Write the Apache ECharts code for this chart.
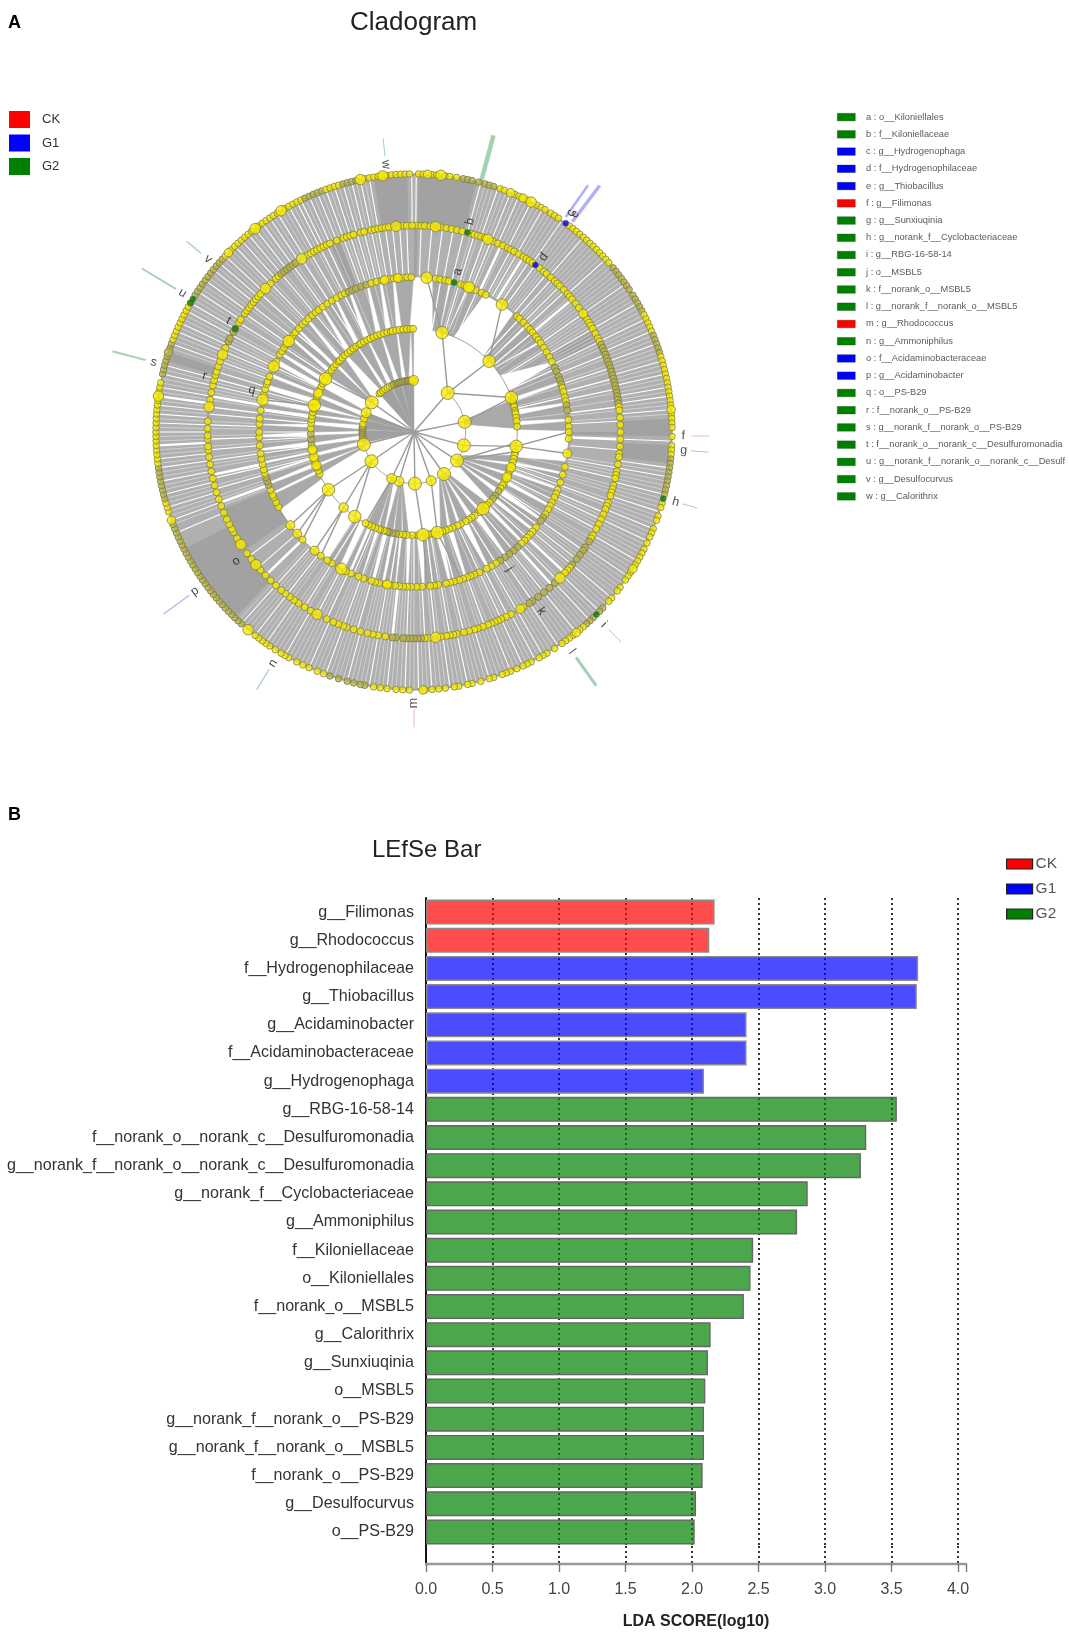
<!DOCTYPE html>
<html><head><meta charset="utf-8">
<script src="https://cdn.jsdelivr.net/npm/echarts@6/dist/echarts.min.js"></script>
<style>html,body{margin:0;padding:0;background:#fff}#c{width:1069px;height:1637px}</style></head>
<body><div id="c"></div>
<script>
/* ---------- bar panel ---------- */
const taxa=['g__Filimonas','g__Rhodococcus','f__Hydrogenophilaceae','g__Thiobacillus','g__Acidaminobacter','f__Acidaminobacteraceae','g__Hydrogenophaga','g__RBG-16-58-14','f__norank_o__norank_c__Desulfuromonadia','g__norank_f__norank_o__norank_c__Desulfuromonadia','g__norank_f__Cyclobacteriaceae','g__Ammoniphilus','f__Kiloniellaceae','o__Kiloniellales','f__norank_o__MSBL5','g__Calorithrix','g__Sunxiuqinia','o__MSBL5','g__norank_f__norank_o__PS-B29','g__norank_f__norank_o__MSBL5','f__norank_o__PS-B29','g__Desulfocurvus','o__PS-B29'];
const scoreCK=[2.17,2.13,null,null,null,null,null,null,null,null,null,null,null,null,null,null,null,null,null,null,null,null,null];
const scoreG1=[null,null,3.70,3.69,2.41,2.41,2.09,null,null,null,null,null,null,null,null,null,null,null,null,null,null,null,null];
const scoreG2=[null,null,null,null,null,null,null,3.54,3.31,3.27,2.87,2.79,2.46,2.44,2.39,2.14,2.12,2.10,2.09,2.09,2.08,2.03,2.02];
/* ---------- clade key ---------- */
const keyLetters=['a','b','c','d','e','f','g','h','i','j','k','l','m','n','o','p','q','r','s','t','u','v','w'];
const keyNames=['o__Kiloniellales','f__Kiloniellaceae','g__Hydrogenophaga','f__Hydrogenophilaceae','g__Thiobacillus','g__Filimonas','g__Sunxiuqinia','g__norank_f__Cyclobacteriaceae','g__RBG-16-58-14','o__MSBL5','f__norank_o__MSBL5','g__norank_f__norank_o__MSBL5','g__Rhodococcus','g__Ammoniphilus','f__Acidaminobacteraceae','g__Acidaminobacter','o__PS-B29','f__norank_o__PS-B29','g__norank_f__norank_o__PS-B29','f__norank_o__norank_c__Desulfuromonadia','g__norank_f__norank_o__norank_c__Desulf','g__Desulfocurvus','g__Calorithrix'];
const keyGroups=['G2','G2','G1','G1','G1','CK','G2','G2','G2','G2','G2','G2','CK','G2','G1','G1','G2','G2','G2','G2','G2','G2','G2'];
/* labels: level, angle */
const letterLevels=[3.22,4.22,5.22,4.22,5.25,5.22,5.24,5.25,5.24,3.24,4.26,5.24,5.25,5.25,4.26,5.25,3.24,4.2,5.22,4.19,5.23,5.21,5.21];
const letterAngles=[15.2,14.9,35.6,36.5,36.4,90.8,93.9,105,135.4,145,144.6,144.3,180,211.4,234,234,284.5,285,285,301,301,310,354];
/* highlighted branches: from level, to level, angle, group */
const beamFrom=[5.38,5.02,5.1,5.1,5.38,5.38,5.38,5.38,5.38,5.38,5.38,5.38,5.38,5.38,5.38];
const beamTo  =[5.72,5.95,5.85,5.98,5.72,5.72,5.68,5.72,6.05,5.72,5.85,6.0,6.05,6.15,5.75];
const beamAng =[354,15,35.2,37,90.8,93.9,105,135.4,144.3,180,211.4,234,285,301,310];
const beamGrp =['G2','G2','G1','G1','CK','G2','G2','G2','G2','CK','G2','G1','G2','G2','G2'];
const beamWide=[1,4.5,2.5,3.5,1,1,1,1,3,1,1.3,1.3,2,2,1.3];
/* ---------- cladogram nodes: angles clockwise from the top ---------- */
const ring1Small=[262.5,265,268,270,272,274,276,279,285,318,320,323,326,329,332,335,337,340,342,343,345,347,349,351,353,354,356,358,359];
const ring1Mid=[160.6,197,205.6,292,359.5];
const ring1Big=[40.8,78.7,105,123.6,144.5,179,235.5,256,305];
const ring2Small=[72,74,75,76,78,79,80,82,84,87,101,103,105,107,110,112,114,116,119,121,123,125,128,130,133,135,141,144,146,148,150,153,155,158,160,162,164,170,172,178,181,184,186,188,190,192,194,195,197,199,200,202,204,206,208,246,248,250,251,253,254,256,258,259,260,263,266,269,272,275,277,279,281,283,287,290,292,294,296,298,300,303,305,307,309,311,313,314,316,318,320,322,324,326,328,329,331,333,335,337,339,341,343,345,347,348,350,352,354,356,358,359.5];
const ring2Mid=[110,116,223,251,256,260,292];
const ring2Big=[15.8,46.7,70.5,98,138,167,175,215,236,285,301];
const ring3Small=[8,9.7,11.6,13,17.5,19,23.5,25.9,27.6,41.7,43,45,47,48.6,50,52,53.5,55,57,59,61,63,65.5,67,69,70.5,72,73.5,75,77,78.5,80,82,85.5,88,90,92.5,103,106,109,112,113.5,115,117,118.5,120,122,123.5,125,128,130,131.5,133,134.5,136,138,140,142,144,146,148,150,152,155,157,158.5,160,161.5,163,165,166.5,168,171,172.5,174,177,179,181,182.5,184,185.5,187,189,191,193,194.5,196,199,201,204,206,212,214,217,226,241,243,245,246,248,250,251.5,253,254.5,256,258,260,262,265,268,270,273,275,278,284,286,288,289,291,297,300,301.5,303,304.5,307,308.5,310,312,314,315.5,317,319,320.5,322,324,326,328,330,332,333.5,335,336.5,338,340,342,344,346,348,349,351,352.5,354,356,357.5,359];
const ring3Mid=[21,98,190,220,229,233,349,354];
const ring3Big=[4.7,20.8,34.6,208,282,295,306];
const ring4Small=[0.6,2,3,4.5,7.5,9,10.5,12,13.5,16,17,18,19,20,22.5,24,25.5,27,28,29,30.5,32,33,34,35,37.5,39,40,41.5,43,44,45,46.5,48,49,50,51.5,53,56,57,58,59,60,61.5,63,64,65,66,67,68,69,70,71,72,73,74,75,76,77,78,79,80,81,82,83,84,86,88,90,92,94,96,97,99,101,102,103,105,106,107,108,110,111,112,113.5,115,116.5,118,120,121,122,124,125,126.5,128,130,131,132,133,137,139,141,143,145,146,148,152,153.5,155,156,157,158,159,160.5,162,163,164.5,166,168,169,170,171,172.5,176,177,178,179,180,181,182,183,185,186,188,190,191.5,193,195,197,199,200,201.5,203,205,210,212,214,215.5,217,218.5,220,222,224,226,228,232,234,239,241,242,243.5,245,247,249,251,253,255,257,259,261,263,265,266,268,269,271,273,279,281,283,284.5,286,287,288.5,290,294,296,297,299,300,302,303,305,306,307,308,309,310,311,312,316,318,319,320,321,322,323,324,325,329,330,331,332,333,334,335,336,338,340,341,342,343,345,346,348,349,350,351,352,353,357,358,359.5];
const ring4Mid=[55,149];
const ring4Big=[6,21,135,174,208,230,237,277,292,314,327,355];
const ring5Small=[1,2,4,5,7,8,9.5,11,12,13,14.5,16,17,18,19.5,20.5,23,24,25,26,28.5,29.5,30.5,32,33,34,37,38,39,40,41,42,43,44,45,46,47,48,49,50.5,51.5,52.5,53.5,54.5,55.5,56.5,58,59,60,61,62,63,64,65,66,67,68,69,70,71,72,73,74,75,76,77,78,79,80,81,82,83,84,86,87,88,89,91,93,94,95,96,97,98,99,100,101,102,103,104,106,107,109,110,112,113,114,115.5,117,118,119,120,121,123,124,125,127,128,130,131,133,134,136,137,138,139,140,142,143,144,145,147,149,150,151,153,154,155,156.5,158,159,160,162,163,165,167,168,170,171,173,174.5,176,177.5,181,182.5,184,186,187.5,189,191,192,193.5,195,197,199,200.5,202,204,205.5,207,209,210,211,212.5,214,215,216,217,218,222,223,224,225,226,227,228,229,230,231,232,233,234,235,236,237,238,239,240,241,242,243,244,245,246,247,248,249,252,253,254,255,256,257,258,259,260,261,262,263,264,265,266,267,268,269,270,271,272,273,274,275,276,277,279,280,281,283,284,285,286,287,289,290,291,292,293,294,295,296,297,298,299,300,302,303,304,305,306,307,308,309,310,311,312,313,315,316,317,318,319,320,321,323,324,325,326,327,328,330,331,332,333,334,335,336,337,338,339,340,341,342,343,344,345,346,347,349,350,351,352,353,354,355,356,357,358,359];
const ring5Mid=[3,22,25,85,122,141,178,250,288,314];
const ring5Big=[6,27,220,278,322,329,348,353];
/* stretches of a ring where the overlapping nodes read as olive: level, from, to */
const oliveSpans=[[5,10,19],[5,50,62],[5,68,72],[5,96,104],[5,133,138],[5,190,200],[5,222,249],[5,255,262],[5,283,290],[5,301,312],[5,335,339],[5,344,347],
 [4,65,82],[4,122,130],[4,134,146],[4,178,186],[4,296,300],[4,320,326],
 [3,65,72],[3,80,84],[3,123,127],[3,138,146],[3,334,342],[3,250,254],
 [2,72,74],[2,125,130],[2,262,270],[2,190,195],[1,337,358],[1,262,276]];
/* coloured nodes: level, angle, group */
const hitLevels=[3,4,5,4,5,5,5,5,4];
const hitAngles=[15,15,36,36,105,135,301,300,300];
const hitGroups=['G2','G2','G1','G1','G2','G2','G2','G2','G2'];
/* ---------- cladogram branches ---------- */
/* from centre to the first ring */
const spokes1=[40.8,78.7,105,123.6,144.5,160.6,179,197,205.6,235.5,256,292,305];
const fans1=[[0,258,272],[0,273,284],[0,285,292],[0,318,333],[0,334,345],[0,346,359.8]];
/* first ring to second ring: parent angle, then child angle */
const links2=[[40.8,15.8],[40.8,46.7],[40.8,70.5],[105,98],[160.6,167],[179,175],[235.5,236],[235.5,223],[235.5,215],[205.6,208],[305,301],[78.7,70.5],[123.6,101],[123.6,96]];
const fans2=[[78.7,72,88],[123.6,103,107],[123.6,109,113],[123.6,115,119],[123.6,121,124],[123.6,127,132],[144.5,134,139],[144.5,141,145],[144.5,148,153],[144.5,155,159],[144.5,161,165],[197,183,186],[197,187,191],[197,192,196],[205.6,197,200],[205.6,201,207],[256,246,250],[256,252,256],[262,258,262],[268,264,268],[272,270,274],[279,276,279],[285,280,283],[285,286,290],[292,292,296],[305,303,310],[305,312,317],[323,319,326],[329,327,333],[337,334,341],[345,342,350],[352,351,358],[359,358.5,359.9]];
const links3=[[15.8,4.7],[46.7,34.6],[98,90],[98,98],[223,220],[223,217],[236,229],[236,226],[236,233],[167,162],[175,175],[285,282]];
const fans3=[[15.8,7,13],[15.8,14,20],[15.8,21,27],[46.7,40,46],[46.7,47,54],[46.7,55,63],[70.5,64,71],[75,72,79],[82,80,85],[87,86,89.5],[109,101,105],[112,106,111],[116,112,118],[121,119,124],[128,125,129],[133,130,135],[138,136,143],[146,144,151],[155,152,160],[162,161,166],[170,167,170.5],[172,171,176],[181,177,182],[186,183,186.5],[190,187,191],[194,192,195],[199,196,199.5],[204,200,204],[208,205,207],[215,209,214],[248,240,246],[251,247,250],[256,251,254],[258,255,258],[260,259,263],[266,264,268],[272,269,272.5],[277,273,278],[281,279,281],[285,283,286],[290,288,291],[293,292,296],[296,298,300],[301,301,307],[305,308,311],[309,312,316],[314,317,323],[320,324,329],[326,330,335],[333,336,342],[340,343,347],[347,348,352],[354,353,359.8]];
/* full annuli, with darker bands and white gaps */
const rings=[[4,0,360],[5,0,360]];
const dark4=[[4,0,1],[4,235,248],[4,336,339],[4,90,91],[4,60,64]];
const dark5=[[5,1,14],[5,87,91],[5,224,243],[5,93,97],[5,286,288],[5,351,358.5]];
const white3=[10,17,24,43,50,58,66,77,108,110,116,123,127,133,140,148,155,165,173,180,189,195,203,212,256,262,267,270,275,278,282,285,287,292,295,297,303,310,320,327,333];
const white4=[2,5,8,11,14,17,20,22,28,30,34,36,40,42,45,47,55,60,64,68,72,75,78,83,87,95,100,103,110,113,115,118,125,128,130,136,141,145,150,153,155,160,166,170,174,177,182,190,196,200,205,208,212,218,222,229,233,254,257,262,265,268,272,275,277,283,285,287,290,293,295,298,302,305,308,312,316,320,324,327,330,333,335,340,342,344,346,348,350,352,354,356,358];
const white4Wide=[25,32,50,92,133,138,186,226,250,258,280];
const white5=[0.5,15,19,22,24,27,30,35,41,48,55,60,64,67,70,74,77,80,82,85,92,98,100,104,108,112,115,120,124,130,134,137,141,146,150,152,155,158,163,168,172,176,179,182,186,190,195,200,204,210,215,218,222,247,250,253,256,259,262,264,270,272,274,276,280,283,285,290,293,295,298,300,303,306,309,311,313,316,318,320,322,324,326,328,331,333,334,336,338,340,342,344,346,348,350,359.5];
const white5Wide=[267,278];
const fineLines=[16,17,18,20,21,23,25,26,28,29,31,32,33,34,36,37,38,39,40,42,43,44,45,46,47,49,50,51,52,53,54,56,57,58,59,61,62,63,65,66,68,69,71,72,73,75,76,78,79,81,83,84,86,99,101,102,103,105,106,107,109,110,111,113,114,116,117,118,119,121,122,123,125,126,127,128,129,131,132,133,135,136,138,139,140,142,143,144,145,147,148,149,151,153,154,156,157,159,160,161,162,164,165,166,167,169,170,171,173,174,175,177,178,180,181,183,184,185,187,188,189,191,192,193,194,196,197,198,199,201,202,203,205,206,207,208,209,211,212,213,214,216,217,219,220,221,223,249,251,252,254,255,257,258,260,261,263,265,266,268,269,271,273,275,277,279,281,282,284,289,291,292,294,296,297,299,301,302,304,305,307,308,310,312,314,315,317,319,321,323,325,327,329,330,332,335,337,339,341,343,345,347,349];
/* ring arcs: level, from, to */
const arcs=[[1,40,359.8],[2,15,359.8],[3,4,359.8],[4,0,360],[5,0,360]];

const groupColors={CK:'#ff0000',G1:'#0000ff',G2:'#008000'};
const beamColors={CK:'rgba(230,90,100,.45)',G1:'rgba(70,70,225,.42)',G2:'rgba(30,140,60,.4)'};
const branchGrey='#a9a9a9';
const labelFont='"Liberation Sans",Arial,sans-serif';

function arcPoints(api,lev,a,b){const out=[];const n=Math.max(1,Math.ceil(Math.abs(b-a)));for(let i=0;i<=n;i++){out.push(api.coord([lev,a+(b-a)*i/n]));}return out;}
function fanSeries(level,list,color,narrow){return {type:'custom',coordinateSystem:'polar',polarIndex:0,silent:true,z:2,animation:false,data:list,
 renderItem(p,api){const par=api.value(0),a=api.value(1),b=api.value(2);
  const a2=par+(a-par)*narrow,b2=par+(b-par)*narrow;
  const pts=arcPoints(api,level-1,b2,a2).concat(arcPoints(api,level,a,b));
  return {type:'polygon',shape:{points:pts},style:{fill:color||branchGrey,stroke:color||branchGrey,lineWidth:.6}};}};}
function bandSeries(list,color,z){return {type:'custom',coordinateSystem:'polar',polarIndex:0,silent:true,z:z,animation:false,data:list,
 renderItem(p,api){const lev=api.value(0),a=api.value(1),b=api.value(2);
  const pts=arcPoints(api,lev,a,b).concat(arcPoints(api,lev-1,b,a));
  return {type:'polygon',shape:{points:pts},style:{fill:color}};}};}
function whiteSeries(level,list,width,stroke){return {type:'custom',coordinateSystem:'polar',polarIndex:0,silent:true,z:3,animation:false,data:list.map(v=>[v]),
 renderItem(p,api){const a=api.value(0);const s=api.coord([level-1+0.04,a]),e=api.coord([level-0.04,a]);
  return {type:'line',shape:{x1:s[0],y1:s[1],x2:e[0],y2:e[1]},style:{stroke:stroke||'#fff',lineWidth:width}};}};}
function linkSeries(level,list){return {type:'custom',coordinateSystem:'polar',polarIndex:0,silent:true,z:4,animation:false,data:list,
 renderItem(p,api){const s=api.coord([level-1,api.value(0)]),e=api.coord([level,api.value(1)]);
  return {type:'line',shape:{x1:s[0],y1:s[1],x2:e[0],y2:e[1]},style:{stroke:'#9a9a9a',lineWidth:1.4}};}};}
function isOlive(level,v){return oliveSpans.some(s=>s[0]===level&&v>=s[1]&&v<=s[2]);}
function dotSeries(level,list,size,z){return {type:'scatter',coordinateSystem:'polar',polarIndex:0,silent:true,z:z||6,animation:false,symbolSize:size,
 itemStyle:{color:'#f8ea00',borderColor:'#7f7f45',borderWidth:1},
 data:list.map(v=>isOlive(level,v)&&size<9?{value:[level,v],itemStyle:{color:'#b9b447',borderColor:'#77774a'}}:[level,v])};}
const fine='rgba(255,255,255,.6)';
const clado=[
 bandSeries(rings,'#b0b0b0',1),bandSeries(dark4,'#a2a2a2',2),bandSeries(dark5,'#a2a2a2',2),
 fanSeries(1,fans1,'#a0a0a0',0),fanSeries(2,fans2,null,0.3),fanSeries(3,fans3,null,0.6),
 whiteSeries(3,fineLines.filter((v,i)=>i%2===0),.7,fine),whiteSeries(4,fineLines,.7,fine),whiteSeries(5,fineLines,.7,fine),
 whiteSeries(3,white3,1.2),whiteSeries(4,white4,1.1),whiteSeries(4,white4Wide,2.6),whiteSeries(5,white5,1.1),whiteSeries(5,white5Wide,2.4),
 {type:'custom',coordinateSystem:'polar',polarIndex:0,silent:true,z:4,animation:false,data:spokes1.map(v=>[v]),
  renderItem(p,api){const s=api.coord([0,0]),e=api.coord([1,api.value(0)]);return {type:'line',shape:{x1:s[0],y1:s[1],x2:e[0],y2:e[1]},style:{stroke:'#9a9a9a',lineWidth:1.4}};}},
 linkSeries(2,links2),linkSeries(3,links3),
 {type:'custom',coordinateSystem:'polar',polarIndex:0,silent:true,z:5,animation:false,data:arcs,
  renderItem(p,api){const pts=arcPoints(api,api.value(0),api.value(1),api.value(2));return {type:'polyline',shape:{points:pts},style:{stroke:'#9a9a9a',fill:'none',lineWidth:1}};}},
 dotSeries(1,ring1Small,7),dotSeries(1,ring1Mid,10),dotSeries(1,ring1Big,13,7),
 dotSeries(2,ring2Small,7),dotSeries(2,ring2Mid,9.5),dotSeries(2,ring2Big,12.5,7),
 dotSeries(3,ring3Small,7),dotSeries(3,ring3Mid,9),dotSeries(3,ring3Big,11.5,7),
 dotSeries(4,ring4Small,7),dotSeries(4,ring4Mid,9),dotSeries(4,ring4Big,10.5,7),
 dotSeries(5,ring5Small,6.5),dotSeries(5,ring5Mid,8.5),dotSeries(5,ring5Big,10.5,7),
 {type:'custom',coordinateSystem:'polar',polarIndex:0,silent:true,z:4,animation:false,data:beamAng.map((v,i)=>[beamFrom[i],beamTo[i],v,beamWide[i],i]),
  renderItem(p,api){const a=api.value(2);const s=api.coord([api.value(0),a]),e=api.coord([api.value(1),a]);
   return {type:'line',shape:{x1:s[0],y1:s[1],x2:e[0],y2:e[1]},style:{stroke:beamColors[beamGrp[api.value(4)]],lineWidth:api.value(3)}};}},
 {type:'scatter',coordinateSystem:'polar',polarIndex:0,silent:true,z:8,animation:false,symbolSize:6,data:hitAngles.map((a,i)=>({value:[hitLevels[i],a],itemStyle:{color:groupColors[hitGroups[i]],borderColor:'#555',borderWidth:.6}}))},
 {type:'scatter',coordinateSystem:'polar',polarIndex:0,silent:true,z:9,animation:false,symbolSize:1,itemStyle:{color:'rgba(0,0,0,0)'},
  data:keyLetters.map((k,i)=>({value:[letterLevels[i],letterAngles[i]],name:k,label:{show:true,position:'inside',formatter:k,rotate:(letterAngles[i]<=179?90:270)-letterAngles[i],color:'#222',fontSize:12.5,fontFamily:labelFont}}))}
];
const barBase={type:'bar',stack:'lda',xAxisIndex:0,yAxisIndex:0,barWidth:25,animation:false,silent:true};
const bars=[
 Object.assign({},barBase,{name:'CK',data:scoreCK,itemStyle:{color:'rgba(255,0,0,.7)',borderColor:'#8a8a8a',borderWidth:1.4},z:3}),
 Object.assign({},barBase,{name:'G1',data:scoreG1,itemStyle:{color:'rgba(0,0,255,.7)',borderColor:'#8a8a8a',borderWidth:1.4},z:3}),
 Object.assign({},barBase,{name:'G2',data:scoreG2,itemStyle:{color:'rgba(0,128,0,.7)',borderColor:'#666',borderWidth:1.4},z:3})
];
const dots={show:true,showMinLine:false,showMaxLine:false,lineStyle:{color:'#000',type:[2,3],width:1.6}};
const chart=echarts.init(document.getElementById('c'),null,{renderer:'canvas'});
const legendNames=['CK','G1','G2'].map(n=>({name:n,itemStyle:{color:groupColors[n],opacity:1,borderColor:'#222',borderWidth:1.2}}));
const keyGraphics=[];
keyLetters.forEach((k,i)=>{
 keyGraphics.push({type:'rect',left:837,top:113+i*17.24,shape:{width:18,height:7.6},style:{fill:groupColors[keyGroups[i]],stroke:'rgba(0,60,0,.5)',lineWidth:.6},silent:true});
 keyGraphics.push({type:'text',left:866,top:112.5+i*17.24,style:{text:k+' : '+keyNames[i],font:'9.3px '+labelFont,fill:'#5a5a5a'},silent:true});
});
chart.setOption({
 animation:false,backgroundColor:'#fff',
 title:[
  {text:'A',left:3,top:9,textStyle:{fontFamily:labelFont,fontSize:18,fontWeight:'bold',color:'#000'}},
  {text:'B',left:3,top:801,textStyle:{fontFamily:labelFont,fontSize:18,fontWeight:'bold',color:'#000'}},
  {text:'Cladogram',left:345,top:5,textStyle:{fontFamily:labelFont,fontSize:26,fontWeight:'normal',color:'#222'}},
  {text:'LEfSe Bar',left:367,top:833,textStyle:{fontFamily:labelFont,fontSize:24,fontWeight:'normal',color:'#222'}}
 ],
 legend:[
  {orient:'vertical',left:9,top:111,itemWidth:21,itemHeight:17,itemGap:6.5,icon:'rect',selectedMode:false,data:['CK','G1','G2'].map(n=>({name:n,itemStyle:{color:groupColors[n],opacity:1,borderWidth:0}})),textStyle:{fontFamily:labelFont,fontSize:13,color:'#333',padding:[9,0,0,7]},padding:0},
  {orient:'vertical',left:1006,top:856,itemWidth:26,itemHeight:10,itemGap:9,icon:'rect',selectedMode:false,data:legendNames,textStyle:{fontFamily:labelFont,fontSize:15.5,color:'#555',padding:[0,0,0,-2]},padding:0}
 ],
 polar:{center:[414,432],radius:320},
 angleAxis:{min:0,max:360,startAngle:90,show:false},
 radiusAxis:{min:0,max:6.2,show:false},
 grid:[
  {left:426,top:898,width:540,height:648},
  {left:426,top:1546,width:540,height:18}
 ],
 xAxis:[
  {gridIndex:0,type:'value',min:0,max:4.06,interval:0.5,axisLine:{show:false},axisTick:{show:false},axisLabel:{show:false},splitLine:dots},
  {gridIndex:1,type:'value',min:0,max:4.06,interval:0.5,position:'bottom',
   axisLine:{show:true,lineStyle:{color:'#999',width:2.4}},axisTick:{show:true,length:8,lineStyle:{color:'#777',width:1.4}},
   axisLabel:{margin:18,color:'#444',fontSize:16,fontFamily:labelFont,formatter:v=>v>4.01?'':v.toFixed(1)},splitLine:dots,
   name:'LDA SCORE(log10)',nameLocation:'middle',nameGap:50,nameTextStyle:{fontFamily:labelFont,fontSize:16,fontWeight:'bold',color:'#222'}}
 ],
 yAxis:[
  {gridIndex:0,type:'category',inverse:true,data:taxa,axisTick:{show:false},axisLine:{show:true,lineStyle:{color:'#111',width:2}},axisLabel:{margin:12,fontFamily:labelFont,fontSize:16.1,color:'#333'},splitLine:{show:false}},
  {gridIndex:1,type:'category',data:[''],axisTick:{show:false},axisLine:{show:true,lineStyle:{color:'#111',width:2}},axisLabel:{show:false},splitLine:{show:false}}
 ],
 graphic:keyGraphics,
 series:clado.concat(bars)
});
</script></body></html>
